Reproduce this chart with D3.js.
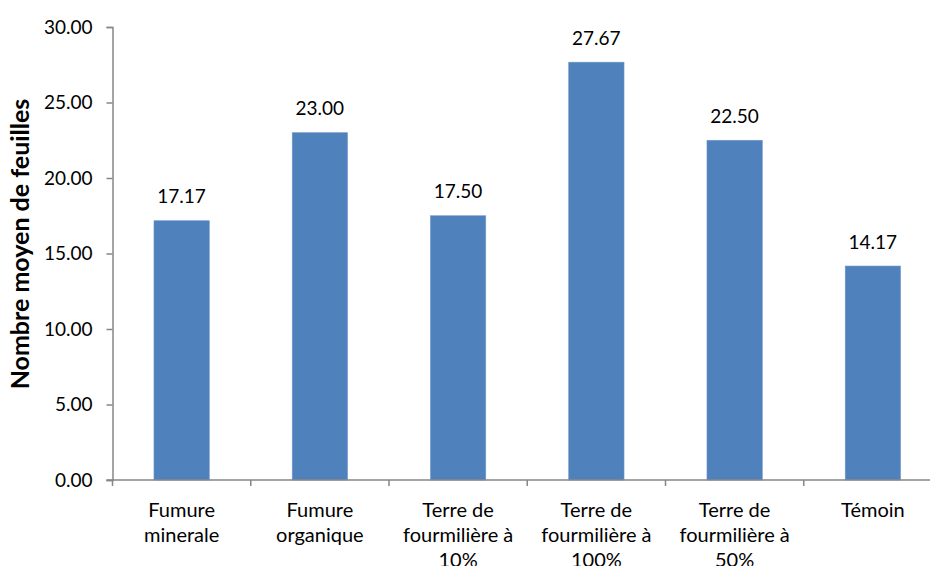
<!DOCTYPE html>
<html>
<head>
	<meta charset="utf-8">
	<title>Nombre moyen de feuilles</title>
	<script src="https://d3js.org/d3.v7.min.js"></script>
	<style>
		body { margin: 0; background: #fff; }
		text { font-family: Lato, "Liberation Sans", sans-serif; fill: #000; }
	</style>
</head>
<body>
	<script>
		// donnees
		const categories = [
			["Fumure", "minerale"],
			["Fumure", "organique"],
			["Terre de", "fourmilière à", "10%"],
			["Terre de", "fourmilière à", "100%"],
			["Terre de", "fourmilière à", "50%"],
			["Témoin"]
		]
		const valeurs = [17.17, 23.00, 17.50, 27.67, 22.50, 14.17]
		const yTicks = [0, 5, 10, 15, 20, 25, 30]
		const titreY = "Nombre moyen de feuilles"

		var width = 930
		var height = 566
		var margin = {top: 27, right: -12, bottom: 86, left: 112.5}
		var fs = "19px"

		const svg = d3.select("body").append("svg")
			.attr("width", width)
			.attr("height", height)

		var x = d3.scaleBand()
			.domain(d3.range(categories.length))
			.range([margin.left, width - margin.right])
			.padding(0)

		var y = d3.scaleLinear()
			.domain([0, 30])
			.range([height - margin.bottom, margin.top])

		var barW = x.bandwidth() * 0.4

		// barres
		svg.append("g")
			.selectAll("rect")
			.data(valeurs)
			.join("rect")
			.attr("x", (d, i) => x(i) + (x.bandwidth() - barW) / 2)
			.attr("y", d => y(d))
			.attr("width", barW)
			.attr("height", d => y(0) - y(d))
			.attr("fill", "#4F81BD")
			.attr("stroke", "#6F97C9")
			.attr("stroke-width", 0.6)

		// etiquettes des valeurs
		svg.append("g")
			.selectAll("text")
			.data(valeurs)
			.join("text")
			.attr("x", (d, i) => x(i) + x.bandwidth() / 2)
			.attr("y", d => y(d) - 17.5)
			.attr("text-anchor", "middle")
			.style("font-size", fs)
			.text(d => d3.format(".2f")(d))

		// axe y
		const yAxis = svg.append("g")
			.attr("transform", `translate(${margin.left},0)`)
			.call(d3.axisLeft(y).tickValues(yTicks).tickFormat(d3.format(".2f")).tickSize(6).tickSizeOuter(6).tickPadding(14))
		yAxis.select(".domain").attr("stroke", "#868686").attr("stroke-width", 1.5)
		yAxis.selectAll(".tick line").attr("stroke", "#868686").attr("stroke-width", 1.5)
		yAxis.selectAll(".tick text").style("font-size", fs).attr("fill", "#000")

		// axe x
		const xAxis = svg.append("g")
			.attr("transform", `translate(0,${y(0)})`)
		xAxis.append("line")
			.attr("x1", margin.left - 6)
			.attr("x2", width)
			.attr("stroke", "#868686")
			.attr("stroke-width", 1.5)
		xAxis.selectAll(".tk")
			.data(d3.range(categories.length + 1))
			.join("line")
			.attr("class", "tk")
			.attr("x1", i => i < categories.length ? x(i) : x(i - 1) + x.bandwidth())
			.attr("x2", i => i < categories.length ? x(i) : x(i - 1) + x.bandwidth())
			.attr("y1", 0)
			.attr("y2", 6)
			.attr("stroke", "#868686")
			.attr("stroke-width", 1.5)

		const lab = xAxis.selectAll(".lab")
			.data(categories)
			.join("text")
			.attr("class", "lab")
			.attr("text-anchor", "middle")
			.style("font-size", "20px")
			.attr("transform", (d, i) => `translate(${x(i) + x.bandwidth() / 2},0)`)
		lab.selectAll("tspan")
			.data(d => d)
			.join("tspan")
			.attr("x", 0)
			.attr("y", (d, j) => 36.5 + j * 25)
			.text(d => d)

		// titre de l'axe y
		svg.append("text")
			.attr("transform", `translate(29,244) rotate(-90)`)
			.attr("text-anchor", "middle")
			.style("font-size", "25px")
			.style("font-weight", "bold")
			.text(titreY)
	</script>
</body>
</html>
